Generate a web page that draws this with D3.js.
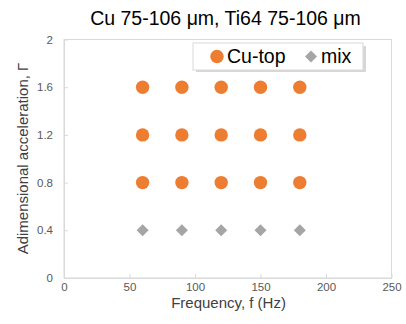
<!DOCTYPE html>
<html>
  <head>
    <meta charset="UTF-8" />
    <script src="https://cdn.jsdelivr.net/npm/d3@7"></script>
    <style>
      body { margin: 0; background: #fff; }
      text { font-family: "Liberation Sans", Arial, sans-serif; }
    </style>
  </head>
  <body>
    <svg></svg>
    <script>
      // data
      const freqs = [60, 90, 120, 150, 180]
      const cuTopGamma = [0.8, 1.2, 1.6]
      const mixGamma = [0.4]
      const xTicks = [0, 50, 100, 150, 200, 250]
      const yTicks = [0, 0.4, 0.8, 1.2, 1.6, 2]

      const width = 406
      const height = 324
      const marge = { top: 39.5, bottom: 46, left: 64, right: 14.5 }

      const svg = d3.select("svg").attr("width", width).attr("height", height)

      const x = d3.scaleLinear().domain([0, 250]).range([marge.left, width - marge.right])
      const y = d3.scaleLinear().domain([0, 2]).range([height - marge.bottom, marge.top])

      // frame
      svg.append("rect")
        .attr("x", marge.left).attr("y", marge.top)
        .attr("width", x(250) - x(0)).attr("height", y(0) - y(2))
        .attr("fill", "none").attr("stroke", "#d9d9d9").attr("stroke-width", 1)

      // axes
      svg.append("g")
        .attr("transform", `translate(0,${y(0)})`)
        .call(d3.axisBottom(x).tickValues(xTicks).tickSizeInner(-4).tickSizeOuter(0).tickPadding(5))
        .call((g) => g.select(".domain").attr("stroke", "#d9d9d9"))
        .call((g) => g.selectAll(".tick line").attr("stroke", "#d9d9d9"))
        .call((g) => g.selectAll(".tick text").attr("fill", "#595959").attr("font-size", 11.5))

      svg.append("g")
        .attr("transform", `translate(${x(0)},0)`)
        .call(d3.axisLeft(y).tickValues(yTicks).tickFormat(d3.format("")).tickSizeInner(-4).tickSizeOuter(0).tickPadding(11))
        .call((g) => g.select(".domain").attr("stroke", "#d9d9d9"))
        .call((g) => g.selectAll(".tick line").attr("stroke", "#d9d9d9"))
        .call((g) => g.selectAll(".tick text").attr("fill", "#595959").attr("font-size", 11.5))

      // titles
      svg.append("text")
        .attr("x", 225.5).attr("y", 25)
        .attr("text-anchor", "middle").attr("font-size", 19.5).attr("fill", "#000")
        .text("Cu 75-106 μm, Ti64 75-106 μm")

      svg.append("text")
        .attr("x", 228.5).attr("y", 307.5)
        .attr("text-anchor", "middle").attr("font-size", 15).attr("fill", "#404040")
        .text("Frequency, f (Hz)")

      svg.append("text")
        .attr("transform", `translate(28,158.5) rotate(-90)`)
        .attr("text-anchor", "middle").attr("font-size", 15).attr("fill", "#404040")
        .text("Adimensional acceleration, Γ")

      // points
      const cuData = cuTopGamma.flatMap((g) => freqs.map((f) => ({ f, g })))
      const mixData = mixGamma.flatMap((g) => freqs.map((f) => ({ f, g })))

      svg.append("g")
        .selectAll("circle")
        .data(cuData)
        .join("circle")
        .attr("cx", (d) => x(d.f))
        .attr("cy", (d) => y(d.g))
        .attr("r", 6.7)
        .attr("fill", "#ed7d31")

      const diamond = "M0,-6L6,0L0,6L-6,0Z"
      svg.append("g")
        .selectAll("path")
        .data(mixData)
        .join("path")
        .attr("transform", (d) => `translate(${x(d.f)},${y(d.g)})`)
        .attr("d", diamond)
        .attr("fill", "#a5a5a5")

      // legend
      const lg = svg.append("g")
      lg.append("rect")
        .attr("x", 196).attr("y", 46).attr("width", 170).attr("height", 26)
        .attr("fill", "#b0b0b0").attr("opacity", 0.5)
      lg.append("rect")
        .attr("x", 193).attr("y", 43).attr("width", 170).attr("height", 27)
        .attr("fill", "#fff").attr("stroke", "#d9d9d9")
      lg.append("circle").attr("cx", 217).attr("cy", 56.5).attr("r", 6.7).attr("fill", "#ed7d31")
      lg.append("text").attr("x", 227).attr("y", 63).attr("font-size", 19.5).text("Cu-top")
      lg.append("path").attr("transform", "translate(311,56.5)").attr("d", diamond).attr("fill", "#a5a5a5")
      lg.append("text").attr("x", 321).attr("y", 63).attr("font-size", 19.5).text("mix")
    </script>
  </body>
</html>
